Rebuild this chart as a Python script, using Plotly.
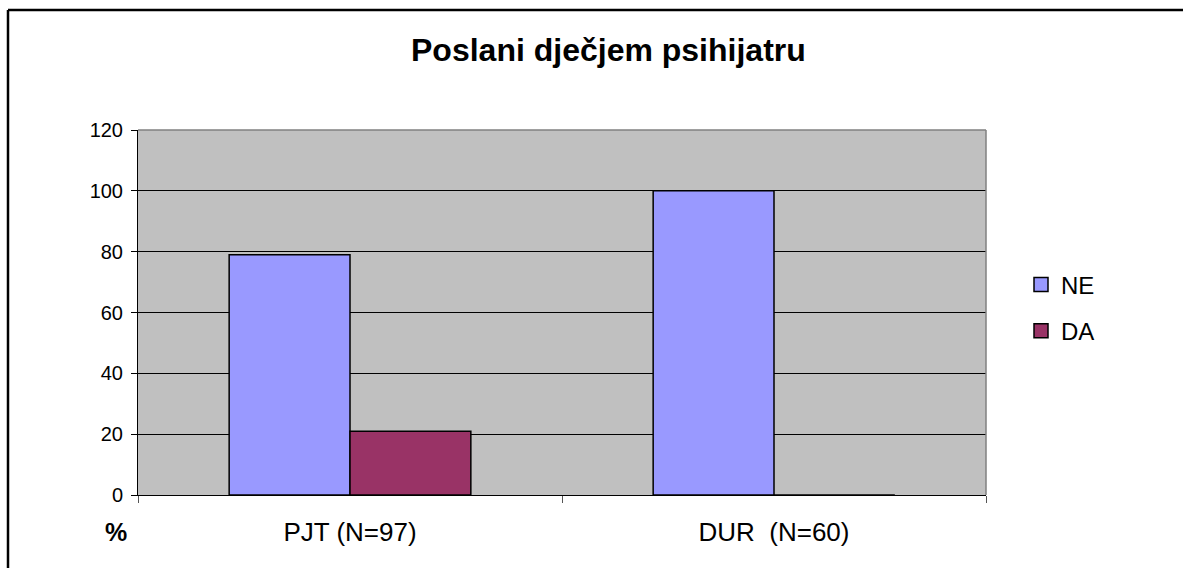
import plotly.graph_objects as go

categories = ["PJT (N=97)", "DUR  (N=60)"]
ne_values = [79, 100]
da_values = [21, 0]
series_names = ["NE", "DA"]
y_ticks = [0, 20, 40, 60, 80, 100, 120]

W, H = 1183, 568
L, R, T, B = 138, W - 986, 130, H - 495
PW, PH = W - L - R, H - T - B

def px_x(x):
    return (x - L) / PW

def px_y(y):
    return (H - B - y) / PH

FONT = "Liberation Sans, Arial, sans-serif"
colors = ["#9999FF", "#993366"]

fig = go.Figure()
for name, vals, col in zip(series_names, [ne_values, da_values], colors):
    fig.add_trace(go.Bar(
        x=categories, y=vals, name=name,
        marker=dict(color=col, line=dict(color="black", width=1.5)),
        showlegend=False,
    ))
for i, (name, col) in enumerate(zip(series_names, colors)):
    fig.add_trace(go.Scatter(
        x=[None], y=[None], mode="markers", name=name, legendgroup=name,
        marker=dict(symbol="square", size=14, color=col,
                    line=dict(color="black", width=1.5)),
    ))

fig.update_layout(
    width=W, height=H,
    margin=dict(l=L, r=R, t=T, b=B),
    paper_bgcolor="white",
    plot_bgcolor="#C0C0C0",
    barmode="group",
    bargap=0.43,
    bargroupgap=0,
    font=dict(family=FONT, color="black"),
    legend=dict(
        x=px_x(1021), y=px_y(308), xanchor="left", yanchor="middle",
        font=dict(size=24, family=FONT, color="black"),
        tracegroupgap=12, bgcolor="rgba(0,0,0,0)",
    ),
    xaxis=dict(
        showline=True, linecolor="black", linewidth=1,
        ticks="outside", tickson="boundaries", ticklen=7,
        tickcolor="#555555", tickwidth=1,
        tickfont=dict(size=26, family=FONT, color="black"),
        showgrid=False, ticklabelstandoff=14,
    ),
    yaxis=dict(
        range=[0, 120], tickvals=y_ticks,
        showline=True, linecolor="black", linewidth=1,
        ticks="outside", ticklen=6, tickcolor="black",
        tickfont=dict(size=20, family=FONT, color="black"),
        showgrid=True, gridcolor="black", gridwidth=1,
        zeroline=False, ticklabelstandoff=4,
    ),
    showlegend=True,
)

# plot-area border (top and right in grey)
fig.add_shape(type="line", xref="paper", yref="paper", x0=0, x1=1, y0=1, y1=1,
              line=dict(color="#808080", width=1.5), layer="above")
fig.add_shape(type="line", xref="paper", yref="paper", x0=1, x1=1, y0=0, y1=1,
              line=dict(color="#808080", width=1.5), layer="above")
# outer chart border: only left and top edges are inside the picture
fig.add_shape(type="line", xref="paper", yref="paper",
              x0=px_x(8), x1=px_x(8), y0=px_y(H + 20), y1=px_y(10),
              line=dict(color="black", width=2.5), layer="above")
fig.add_shape(type="line", xref="paper", yref="paper",
              x0=px_x(8), x1=px_x(W + 20), y0=px_y(10), y1=px_y(10),
              line=dict(color="black", width=2.5), layer="above")

fig.add_annotation(text="<b>Poslani dječjem psihijatru</b>", xref="paper", yref="paper",
                   x=px_x(608), y=px_y(50), xanchor="center", yanchor="middle",
                   showarrow=False, font=dict(size=32, family=FONT, color="black"))
fig.add_annotation(text="<b>%</b>", xref="paper", yref="paper",
                   x=px_x(116), y=px_y(532), xanchor="center", yanchor="middle",
                   showarrow=False, font=dict(size=25, family=FONT, color="black"))

fig.write_html("out.html", config={"displayModeBar": False})

# remove default page margin so the figure sits at the window origin
with open("out.html", "r", encoding="utf-8") as f:
    html = f.read()
html = html.replace("<body>", '<body style="margin:0;padding:0;overflow:hidden">', 1)
with open("out.html", "w", encoding="utf-8") as f:
    f.write(html)
